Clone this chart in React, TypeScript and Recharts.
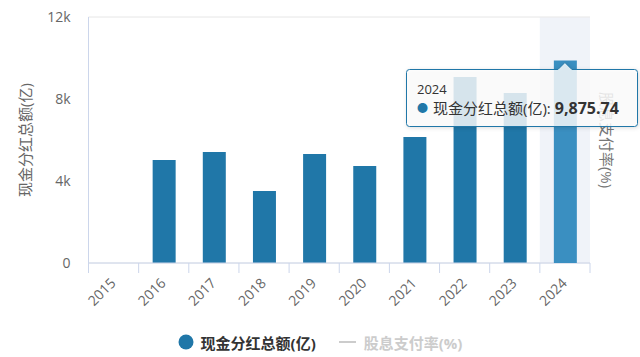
import React from 'react';
import { BarChart, Bar, XAxis, YAxis, CartesianGrid, Tooltip, Legend } from 'recharts';

const years = ['2015', '2016', '2017', '2018', '2019', '2020', '2021', '2022', '2023', '2024'];
const dividends: (number | null)[] = [null, 5020, 5410, 3510, 5320, 4730, 6150, 9070, 8290, 9875.74];
const yTicks = [0, 4000, 8000, 12000];
const seriesNames = ['现金分红总额(亿)', '股息支付率(%)'];
const rightAxisTitle = '股息支付率(%)';

const data = years.map((y, i) => ({ year: y, dividend: dividends[i] }));

const BAR = '#2077a8';
const BAR_ACTIVE = '#3a8fc1';
const AXIS = '#ccd6eb';
const FONT = '"Open Sans", "Noto Sans CJK SC", sans-serif';
const TIP_POS = { x: 406, y: 62 };

const XTick = (props: any) => {
  const { x, y, payload, index, visibleTicksCount } = props;
  const half = payload && payload.offset ? payload.offset : 25;
  const last = index === (visibleTicksCount ?? years.length) - 1;
  const tx = x + 3;
  const ty = y + 21;
  return (
    <g>
      <line x1={x - half} x2={x - half} y1={y} y2={y + 10} stroke={AXIS} />
      {last && <line x1={x + half} x2={x + half} y1={y} y2={y + 10} stroke={AXIS} />}
      <text x={tx} y={ty} textAnchor="end" fill="#666" fontSize={14} fontFamily={FONT} transform={`rotate(-45, ${tx}, ${ty})`}>
        {payload.value}
      </text>
    </g>
  );
};

const fmtY = (v: number) => (v === 0 ? '0' : `${v / 1000}k`);

const TipContent = (props: any) => {
  const { active, payload, label, coordinate } = props;
  if (!active || !payload || !payload.length) return null;
  const W = 232;
  const H = 58;
  const A = 7;
  const ax = (coordinate && coordinate.x != null ? coordinate.x : 565) - TIP_POS.x;
  const r = 3;
  const top = A + 0.5;
  const bot = A + H - 0.5;
  const d = `M ${0.5 + r} ${top} L ${ax - A} ${top} L ${ax} 0.5 L ${ax + A} ${top} L ${W - 0.5 - r} ${top} Q ${W - 0.5} ${top} ${W - 0.5} ${top + r} L ${W - 0.5} ${bot - r} Q ${W - 0.5} ${bot} ${W - 0.5 - r} ${bot} L ${0.5 + r} ${bot} Q 0.5 ${bot} 0.5 ${bot - r} L 0.5 ${top + r} Q 0.5 ${top} ${0.5 + r} ${top} Z`;
  const v = payload[0].value as number;
  const vs = v.toLocaleString('en-US', { minimumFractionDigits: 2, maximumFractionDigits: 2 });
  return (
    <div style={{ position: 'relative', width: W, height: H + A, fontFamily: FONT }}>
      <svg width={W} height={H + A} style={{ position: 'absolute', left: 0, top: 0, overflow: 'visible' }}>
        <path d={d} fill="rgba(255,255,255,0.82)" stroke={BAR} strokeWidth={1} style={{ filter: 'drop-shadow(1px 1px 2px rgba(0,0,0,0.15))' }} />
      </svg>
      <div style={{ position: 'absolute', left: 11, top: 19, fontSize: 13, lineHeight: '16px', color: '#333', whiteSpace: 'nowrap' }}>{label}</div>
      <div style={{ position: 'absolute', left: 11, top: 36, fontSize: 15, lineHeight: '20px', color: '#333', whiteSpace: 'nowrap', display: 'flex', alignItems: 'center' }}>
        <span style={{ color: BAR, fontSize: 11, marginRight: 5 }}>●</span>
        <span>{seriesNames[0]}: </span>
        <b style={{ fontSize: 16, marginLeft: 4 }}>{vs}</b>
      </div>
    </div>
  );
};

const LegendContent = () => (
  <div style={{ display: 'flex', justifyContent: 'center', alignItems: 'center', height: 30, fontFamily: FONT, fontSize: 15, fontWeight: 'bold' }}>
    <svg width={16} height={16} style={{ marginRight: 7 }}>
      <circle cx={8} cy={8} r={7.5} fill={BAR} />
    </svg>
    <span style={{ color: '#333' }}>{seriesNames[0]}</span>
    <svg width={17} height={14} style={{ marginLeft: 23, marginRight: 8 }}>
      <line x1={0} x2={17} y1={7} y2={7} stroke="#ccc" strokeWidth={2} />
    </svg>
    <span style={{ color: '#ccc' }}>{seriesNames[1]}</span>
  </div>
);

const LeftTitle = (props: any) => {
  const vb = props.viewBox || { x: 0, y: 17, width: 88.5, height: 246 };
  const cx = vb.x + 25;
  const cy = vb.y + vb.height / 2;
  return (
    <text x={cx} y={cy} textAnchor="middle" dominantBaseline="central" fill="#666" fontSize={15} fontFamily={FONT} transform={`rotate(-90, ${cx}, ${cy})`}>
      {seriesNames[0]}
    </text>
  );
};

const RightTitle = (props: any) => {
  const vb = props.viewBox || { x: 590, y: 17, width: 30, height: 246 };
  const cx = vb.x + 17;
  const cy = vb.y + vb.height / 2;
  return (
    <text x={cx} y={cy} textAnchor="middle" dominantBaseline="central" fill="#777" fontSize={15} fontFamily={FONT} transform={`rotate(90, ${cx}, ${cy})`}>
      {rightAxisTitle}
    </text>
  );
};

export default function App() {
  return (
    <div style={{ position: 'absolute', left: 0, top: 0, width: 640, height: 357, background: '#fff' }}>
      <BarChart width={640} height={357} data={data} margin={{ top: 17, right: 20, bottom: 0, left: 0 }}>
        <CartesianGrid horizontal vertical={false} stroke="#e6e6e6" />
        <XAxis dataKey="year" height={64} interval={0} tickLine={false} tickSize={0} tickMargin={0} axisLine={{ stroke: AXIS }} tick={<XTick />} />
        <YAxis
          yAxisId="left"
          width={88.5}
          domain={[0, 12000]}
          ticks={yTicks}
          tickFormatter={fmtY}
          tickLine={false}
          tickSize={0}
          tickMargin={18}
          axisLine={{ stroke: AXIS }}
          tick={{ fill: '#666', fontSize: 14, fontFamily: FONT }}
          label={<LeftTitle />}
        />
        <YAxis yAxisId="right" orientation="right" width={30} domain={[0, 100]} tick={false} tickLine={false} axisLine={false} label={<RightTitle />} />
        <Tooltip
          active
          defaultIndex={9}
          position={TIP_POS}
          cursor={{ fill: 'rgba(204,214,235,0.3)' }}
          content={<TipContent />}
          wrapperStyle={{ outline: 'none', zIndex: 10 }}
          allowEscapeViewBox={{ x: true, y: true }}
          isAnimationActive={false}
        />
        <Legend verticalAlign="bottom" height={30} content={<LegendContent />} wrapperStyle={{ height: 30, left: 0, width: 640 }} />
        <Bar yAxisId="left" dataKey="dividend" name={seriesNames[0]} fill={BAR} barSize={23} activeBar={{ fill: BAR_ACTIVE }} isAnimationActive={false} />
      </BarChart>
    </div>
  );
}
